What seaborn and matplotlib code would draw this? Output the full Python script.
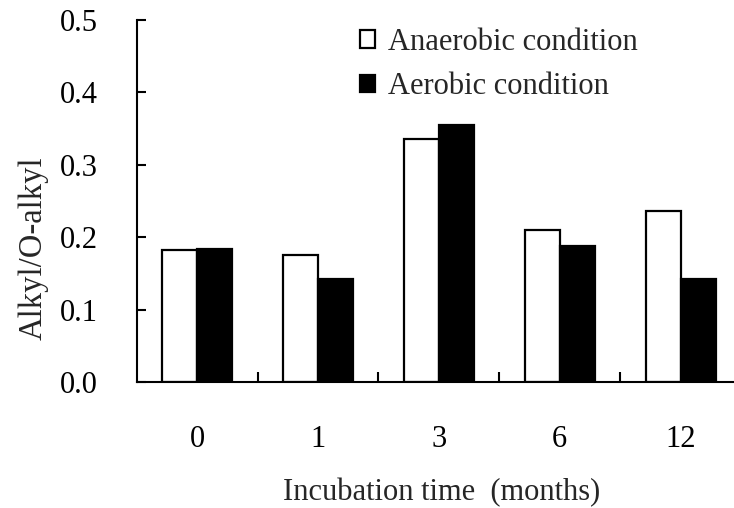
import pandas as pd
import seaborn as sns
import matplotlib.pyplot as plt
from matplotlib.ticker import FixedLocator

# values
months = ["0", "1", "3", "6", "12"]
anaerobic = [0.183, 0.176, 0.336, 0.210, 0.236]
aerobic = [0.184, 0.142, 0.355, 0.188, 0.142]
series_names = ["Anaerobic condition", "Aerobic condition"]
y_ticks = [0.0, 0.1, 0.2, 0.3, 0.4, 0.5]

FONT_SIZE = 22
LEGEND_SIZE = 22
LINE_WIDTH = 1.5

df = pd.DataFrame({
    "month": months * 2,
    "value": anaerobic + aerobic,
    "condition": [series_names[0]] * len(months) + [series_names[1]] * len(months),
})

sns.set_style("ticks")
plt.rcParams["font.family"] = ["Liberation Serif", "DejaVu Serif"]

fig = plt.figure(figsize=(7.34, 5.08), dpi=100)
ax = fig.add_axes([136.7 / 734, 1 - 382 / 508, (741 - 136.7) / 734, (382 - 20) / 508])

sns.barplot(data=df, x="month", y="value", hue="condition", order=months,
            hue_order=series_names,
            palette={series_names[0]: "white", series_names[1]: "black"},
            edgecolor="black", linewidth=1.6, width=0.58, gap=0,
            errorbar=None, ax=ax)

ax.set_xlim(-0.5, len(months) - 0.5)
ax.set_ylim(0, 0.5)
ax.set_yticks(y_ticks)
ax.set_yticklabels([f"{t:.1f}" for t in y_ticks])
sns.despine(ax=ax)
for side in ["left", "bottom"]:
    ax.spines[side].set_linewidth(LINE_WIDTH)
    ax.spines[side].set_color("black")

# category separators as inward minor ticks, no ticks under the labels
ax.xaxis.set_minor_locator(FixedLocator([i + 0.5 for i in range(len(months) - 1)]))
ax.tick_params(axis="x", which="major", length=0, pad=31, labelsize=FONT_SIZE, colors="black")
ax.tick_params(axis="x", which="minor", direction="in", length=7, width=LINE_WIDTH, color="black")
ax.tick_params(axis="y", direction="in", length=6.5, width=LINE_WIDTH, pad=28,
               labelsize=FONT_SIZE, colors="black")

ax.set_xlabel("Incubation time  (months)", fontsize=FONT_SIZE)
ax.xaxis.set_label_coords(0.505, -0.265)
ax.set_ylabel("Alkyl/O-alkyl", fontsize=23.5)
ax.yaxis.set_label_coords(-0.145, 0.37)

handles, labels = ax.get_legend_handles_labels()
ax.legend(handles, labels, loc="upper left", bbox_to_anchor=(360 / 734, 0.945),
          bbox_transform=fig.transFigure, frameon=False, fontsize=LEGEND_SIZE,
          handlelength=0.5, handleheight=0.5, handletextpad=0.42,
          labelspacing=0.5, borderpad=0, borderaxespad=0)

fig.savefig("out.png", dpi=100)
